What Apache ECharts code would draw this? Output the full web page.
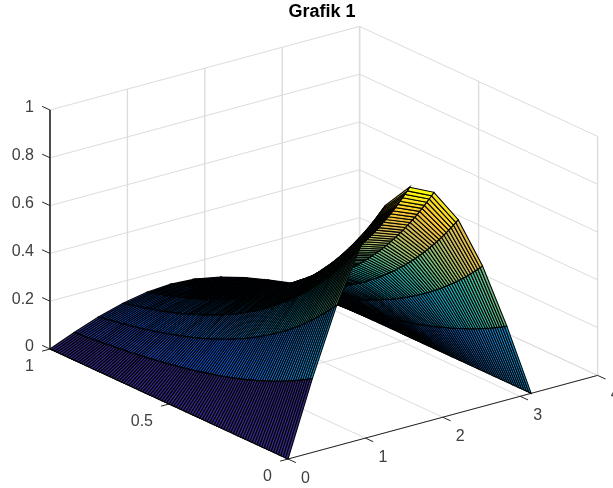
<!DOCTYPE html>
<html>
<head>
<meta charset="utf-8">
<style>html,body{margin:0;padding:0;background:#fff}#c{width:613px;height:488px}</style>
<script src="https://cdn.jsdelivr.net/npm/echarts@6/dist/echarts.min.js"></script>
</head>
<body>
<div id="c"></div>
<script>
// ---------- values ----------
const chartTitle = 'Grafik 1';
const xTicks = [0, 1, 2, 3, 4];
const yTicks = [0, 0.5, 1];
const zTicks = [0, 0.2, 0.4, 0.6, 0.8, 1];
const yTickLabels = ['0', '0.5', '1'];
const zTickLabels = ['0', '0.2', '0.4', '0.6', '0.8', '1'];
// surface columns (x) and the front-edge heights at y = 0
const surfaceX = [0, 0.314, 0.628, 0.942, 1.257, 1.571, 1.885, 2.199, 2.513, 2.827, 3.142];
const frontHeight = [0, 0.309, 0.588, 0.809, 0.951, 1, 0.951, 0.809, 0.588, 0.309, 0];
// share of the front height left at y = 0, 0.01, ... 1
const backFalloff = [
  1.000,.980,.961,.942,.923,.905,.887,.869,.852,.835,
  .819,.803,.787,.771,.756,.741,.726,.712,.698,.684,
  .670,.657,.644,.631,.619,.607,.595,.583,.571,.560,
  .549,.538,.527,.517,.507,.497,.487,.477,.468,.458,
  .449,.440,.432,.423,.415,.407,.399,.391,.383,.375,
  .368,.361,.353,.346,.340,.333,.326,.320,.313,.307,
  .301,.295,.289,.284,.278,.273,.267,.262,.257,.252,
  .247,.242,.237,.232,.228,.223,.219,.214,.210,.206,
  .202,.198,.194,.190,.186,.183,.179,.176,.172,.169,
  .165,.162,.159,.156,.153,.150,.147,.144,.141,.138,
  .135
];
const parula = ['#352A87','#0F5CDD','#1481D6','#06A4CA','#2EB7A4','#87BF77','#D1BB59','#FEC832','#F9FB0E'];

// ---------- view: how data units land on the page ----------
const view = { ox: 288, oy: 459, xx: 77.4, xy: -20.9, yx: -238, yy: -110, zy: -239 };
const INK = '#262626', GRID = '#dcdcdc';
const project = (x, y, z) => [view.ox + view.xx * x + view.yx * y, view.oy + view.xy * x + view.yy * y + view.zy * z];

const surfaceY = backFalloff.map((_, j) => j / (backFalloff.length - 1));
const height = (i, j) => frontHeight[i] * backFalloff[j];

function mapColor(v) {
  const t = Math.max(0, Math.min(1, v)) * (parula.length - 1);
  const a = Math.min(Math.floor(t), parula.length - 2), f = t - a;
  const p = c => [1, 3, 5].map(k => parseInt(c.substr(k, 2), 16));
  const A = p(parula[a]), B = p(parula[a + 1]);
  return 'rgb(' + A.map((q, k) => Math.round(q + (B[k] - q) * f)).join(',') + ')';
}

// grid on the back walls and the floor
const xMax = xTicks[xTicks.length - 1], yMax = yTicks[yTicks.length - 1], zMax = zTicks[zTicks.length - 1];
const gridLines = [];
xTicks.forEach(x => {
  gridLines.push([x, 0, 0, x, yMax, 0]);
  gridLines.push([x, yMax, 0, x, yMax, zMax]);
});
yTicks.forEach(y => {
  gridLines.push([0, y, 0, xMax, y, 0]);
  gridLines.push([xMax, y, 0, xMax, y, zMax]);
});
zTicks.forEach(z => {
  gridLines.push([0, yMax, z, xMax, yMax, z]);
  gridLines.push([xMax, 0, z, xMax, yMax, z]);
});

// axis lines and ticks
const tick = 0.033;
const axisLines = [
  { p: [0, 0, 0, xMax, 0, 0], w: 1 },
  { p: [0, 0, 0, 0, yMax, 0], w: 1 },
  { p: [0, yMax, 0, 0, yMax, zMax], w: 1.6 }
];
xTicks.forEach(x => axisLines.push({ p: [x, 0, 0, x, -tick, 0], w: 1 }));
yTicks.forEach(y => axisLines.push({ p: [0, y, 0, -tick * 3.1, y, 0], w: 1 }));
zTicks.forEach(z => axisLines.push({ p: [0, yMax, z, 0, yMax + tick, z], w: 1 }));

// tick labels: anchor in data units, plus a page offset
const tickTexts = [];
xTicks.forEach(x => tickTexts.push({ at: [x, 0, 0], dx: 17.5, dy: 19.5, text: String(x), align: 'center' }));
yTicks.forEach((y, k) => tickTexts.push({ at: [0, y, 0], dx: -16, dy: 18, text: yTickLabels[k], align: 'right' }));
zTicks.forEach((z, k) => tickTexts.push({ at: [0, yMax, z], dx: -16, dy: -2, text: zTickLabels[k], align: 'right' }));

// surface faces, far corner first so nearer faces paint over
const faces = [];
for (let i = surfaceX.length - 2; i >= 0; i--) {
  for (let j = surfaceY.length - 2; j >= 0; j--) faces.push([i, j]);
}

const chart = echarts.init(document.getElementById('c'), null, { renderer: 'canvas' });
const segment = (api, p, style) => {
  const a = api.coord(project(p[0], p[1], p[2])), b = api.coord(project(p[3], p[4], p[5]));
  return { type: 'line', shape: { x1: a[0], y1: a[1], x2: b[0], y2: b[1] }, style };
};
const base = { type: 'custom', coordinateSystem: 'cartesian2d', silent: true, animation: false, progressive: 0, clip: false };

chart.setOption({
  animation: false,
  backgroundColor: '#fff',
  title: {
    text: chartTitle, left: 322, top: 3, padding: 0, textAlign: 'center',
    textStyle: { fontFamily: 'Liberation Sans', fontSize: 18, fontWeight: 'bold', color: '#000' }
  },
  tooltip: { show: false },
  grid: { left: 0, right: 0, top: 0, bottom: 0 },
  xAxis: { type: 'value', min: 0, max: 613, show: false },
  yAxis: { type: 'value', min: 0, max: 488, inverse: true, show: false },
  series: [
    Object.assign({}, base, {
      name: 'grid', z: 1,
      data: gridLines.map((_, k) => [k, 0]),
      renderItem: (params, api) => {
        const g = gridLines[params.dataIndex];
        const upright = g[0] === g[3] && g[1] === g[4];
        return segment(api, g, { stroke: GRID, lineWidth: upright ? 1.4 : 1, fill: null });
      }
    }),
    Object.assign({}, base, {
      name: 'axes', z: 2,
      data: axisLines.map((_, k) => [k, 0]),
      renderItem: (params, api) => {
        const l = axisLines[params.dataIndex];
        return segment(api, l.p, { stroke: INK, lineWidth: l.w, fill: null });
      }
    }),
    Object.assign({}, base, {
      name: 'surface', z: 3,
      data: faces,
      renderItem: (params, api) => {
        const f = faces[params.dataIndex], i = f[0], j = f[1];
        const pts = [[i, j], [i + 1, j], [i + 1, j + 1], [i, j + 1]]
          .map(q => api.coord(project(surfaceX[q[0]], surfaceY[q[1]], height(q[0], q[1]))));
        return {
          type: 'polygon',
          shape: { points: pts },
          style: { fill: mapColor(height(i, j)), stroke: '#000', lineWidth: 1.1 }
        };
      }
    }),
    Object.assign({}, base, {
      name: 'tick labels', z: 4,
      data: tickTexts.map((_, k) => [k, 0]),
      renderItem: (params, api) => {
        const t = tickTexts[params.dataIndex];
        const a = api.coord(project(t.at[0], t.at[1], t.at[2]));
        return {
          type: 'text',
          style: {
            x: a[0] + t.dx, y: a[1] + t.dy, text: t.text, align: t.align, verticalAlign: 'middle',
            font: '16px "Liberation Sans"', fill: '#404040'
          }
        };
      }
    })
  ]
});
</script>
</body>
</html>
